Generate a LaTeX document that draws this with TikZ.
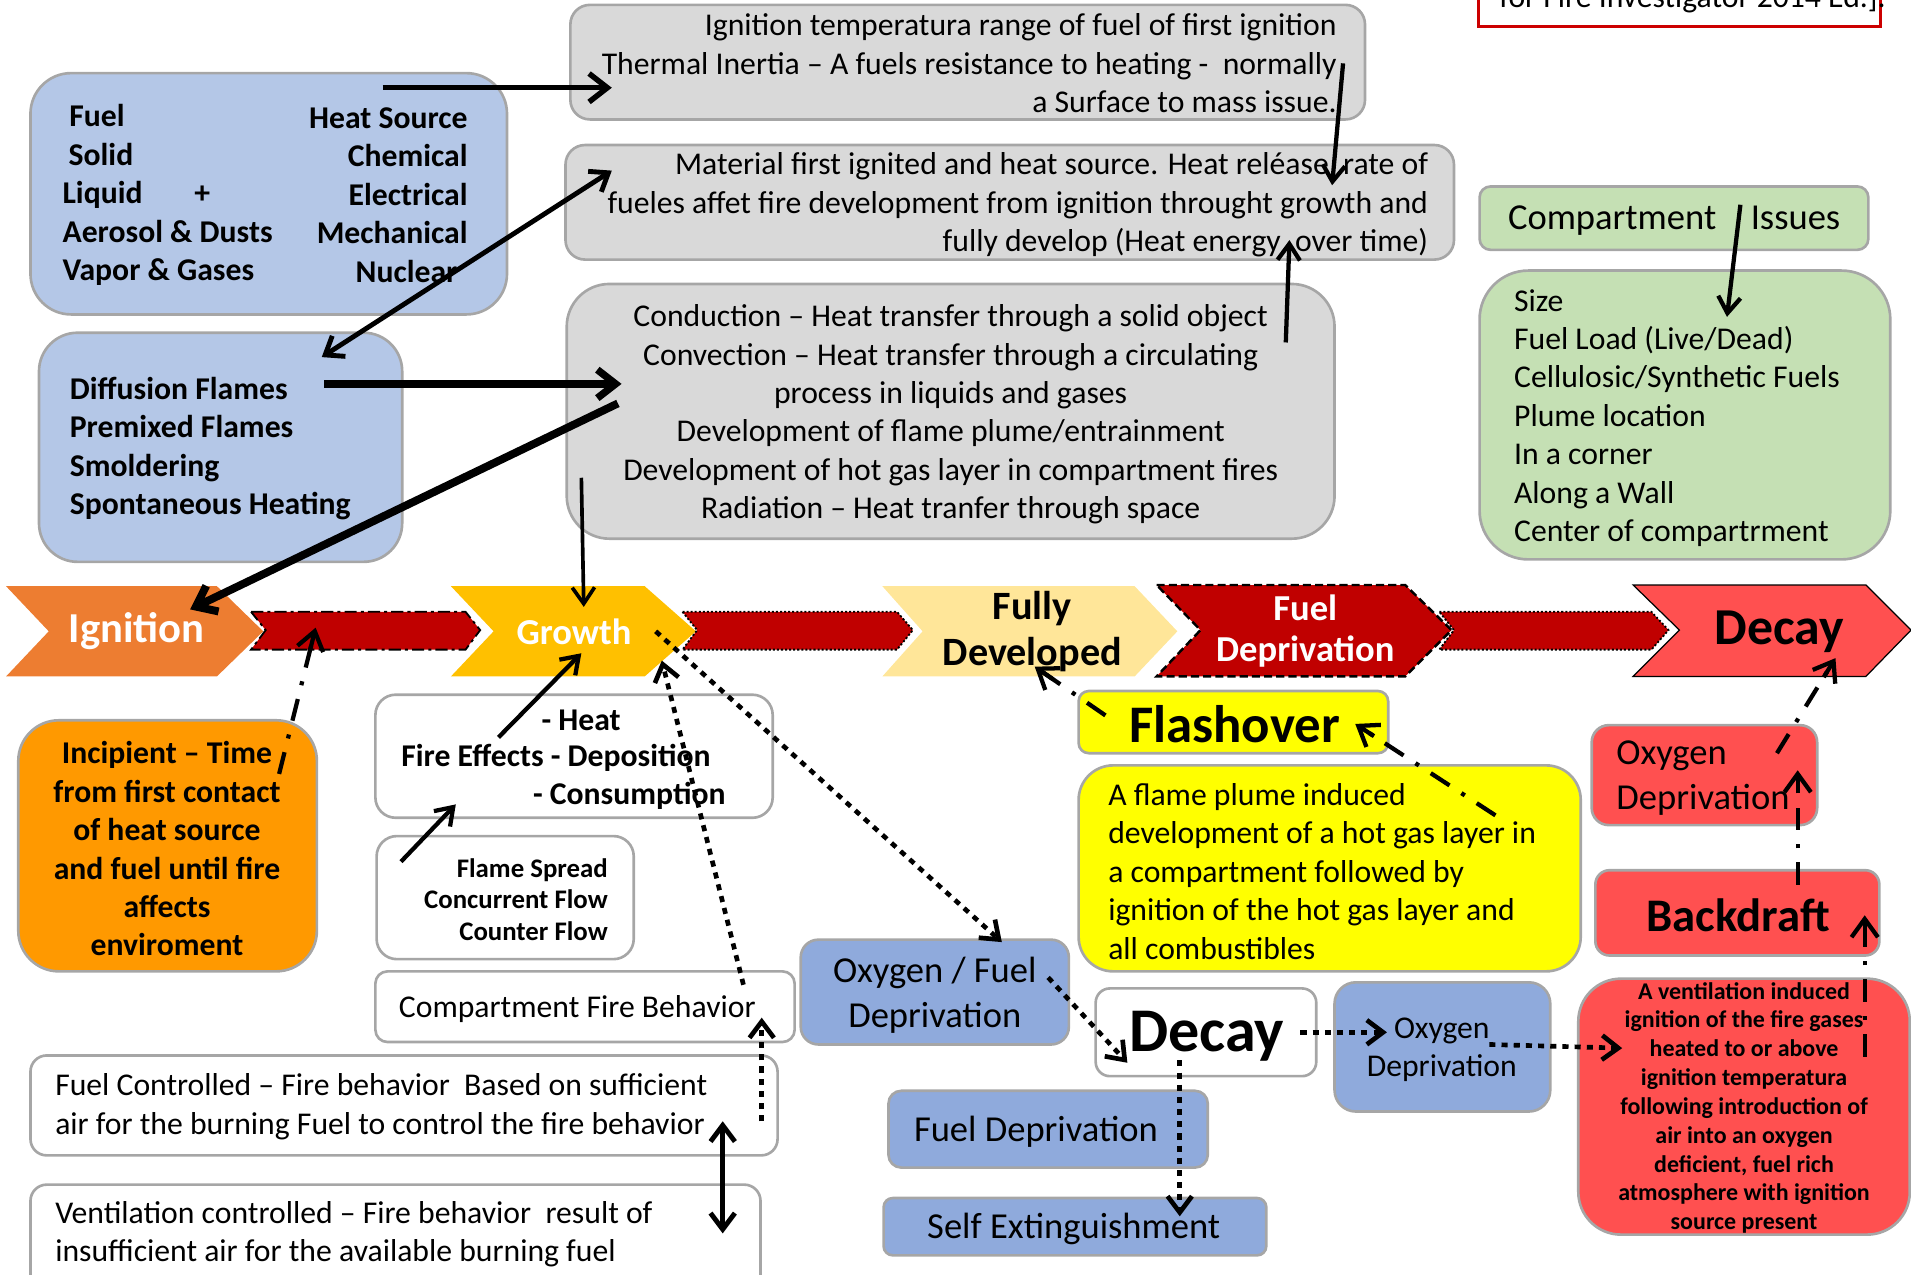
\documentclass[tikz,border=0pt]{standalone}
\usepackage{fontspec}
\setmainfont{Carlito}
\usetikzlibrary{arrows.meta,fit,calc}
\definecolor{bgray}{HTML}{A6A6A6}
\definecolor{cgray}{HTML}{D9D9D9}
\definecolor{cblueL}{HTML}{B4C7E7}
\definecolor{cblueM}{HTML}{8FAADC}
\definecolor{cgreen}{HTML}{C5E0B4}
\definecolor{cign}{HTML}{ED7D31}
\definecolor{cgrow}{HTML}{FFC000}
\definecolor{cfull}{HTML}{FFE699}
\definecolor{cdk}{HTML}{C00000}
\definecolor{cred}{HTML}{FF5050}
\definecolor{corange}{HTML}{FF9900}
\definecolor{cyel}{HTML}{FFFF00}
\definecolor{cline}{HTML}{CC0000}
\newcommand\fz[2]{\fontsize{#1pt}{#2pt}\selectfont}
\newcommand\dashcon[2]{%
  \draw[dashshaft] (#1) -- (#2);
  \draw[dashtip] ($(#2)!11pt!(#1)$) -- (#2);}
\begin{document}
\begin{tikzpicture}[x=0.6pt,y=-0.6pt,
  bx/.style={draw=bgray, line width=1.3pt, inner sep=0pt, outer sep=0pt},
  tx/.style={inner sep=0pt, font=\fz{15.6}{18.9}},
  txb/.style={inner sep=0pt, font=\fz{15.6}{18.9}\bfseries},
  arrS/.style={-{Straight Barb[length=8pt,width=11pt]}},
  arrB/.style={-{Straight Barb[length=9pt,width=14pt]}},
  arrD/.style={{Straight Barb[length=8pt,width=12pt]}-{Straight Barb[length=8pt,width=12pt]}},
  dotarr/.style={line width=2.3pt, dash pattern=on 3pt off 3pt, -{Straight Barb[length=8pt,width=12pt]}},
  dashshaft/.style={line width=2.1pt, dash pattern=on 11pt off 7pt on 2pt off 7pt, shorten >=4pt},
  dashtip/.style={line width=2.1pt, -{Straight Barb[length=9pt,width=13pt]}},
  band/.style={fill=cdk, draw=black, line width=0.9pt}
]
\useasboundingbox (0,0) rectangle (1568,1046);

% ---------- top boxes ----------
\node[bx, fill=cgray, rounded corners=9.6pt, fit={(468,4)(1120,98)}] (g1) {};
\node[tx, align=right, anchor=east] (g1t) at (1097,52)
  {Ignition temperatura range of fuel of first ignition\\
   Thermal Inertia – A fuels resistance to heating -~ normally\\
   a Surface to mass issue.};
\node[bx, fill=cgray, rounded corners=9.6pt, fit={(464,119)(1193,213)}] (g2) {};
\node[tx, align=right, anchor=east] (g2t) at (1172,168)
  {Material first ignited and heat source. Heat reléase~ rate of\\
   fueles affet fire development from ignition throught growth and\\
   fully develop (Heat energy~ over time)};
\node[bx, fill=cgray, rounded corners=21pt, fit={(465,233)(1095,442)}] (g3) {};
\node[tx, align=center] (g3t) at (780,340)
  {Conduction – Heat transfer through a solid object\\
   Convection – Heat transfer through a circulating\\
   process in liquids and gases\\
   Development of flame plume/entrainment\\
   Development of hot gas layer in compartment fires\\
   Radiation – Heat tranfer through space};

\node[bx, fill=cblueL, rounded corners=20pt, fit={(25,60)(416,258)}] (b1) {};
\node[txb, align=left, anchor=west] (b1l) at (51,160)
  {\hspace*{3.3pt}Fuel\\ \hspace*{3pt}Solid\\ Liquid\\ Aerosol \& Dusts\\ Vapor \& Gases};
\node[txb] (b1p) at (166,160) {+};
\node[txb, align=right, anchor=east] (b1r) at (384,160)
  {Heat Source\\ Chemical\\ Electrical\hspace*{1.8pt}\\ Mechanical\hspace*{2.4pt}\\ Nuclear\hspace*{5pt}};

\node[bx, fill=cblueL, rounded corners=19pt, fit={(32,273)(330,461)}] (b2) {};
\node[txb, align=left, anchor=west] (b2t) at (57,368)
  {Diffusion Flames\\ Premixed Flames\\ Smoldering\\ Spontaneous Heating};

\node[bx, fill=cgreen, rounded corners=5.4pt, fit={(1214,153)(1533,205)}] (gi) {};
\node[inner sep=0pt, font=\fz{18}{22}, anchor=west] (git) at (1237,181) {Compartment\hspace{17pt}Issues};
\node[bx, fill=cgreen, rounded corners=24pt, fit={(1214,222)(1551,459)}] (gl) {};
\node[tx, align=left, anchor=west] (glt) at (1242,343)
  {Size\\ Fuel Load (Live/Dead)\\ Cellulosic/Synthetic Fuels\\ Plume location\\ In a corner\\ Along a Wall\\ Center of compartrment};

\node[draw=cline, line width=1.5pt, inner sep=0pt, fit={(1213,-40)(1543,22)}] (rt) {};
\node[tx, anchor=base west] (rtt) at (1230,6) {for Fire Investigator 2014 Ed.].};

% ---------- chevron row ----------
\fill[cign] (5,481) -- (178,481) -- (216,518) -- (178,555) -- (5,555) -- (40,518) -- cycle;
\node[inner sep=0pt, font=\fz{21}{24}\bfseries, text=white] (ign) at (112,518) {Ignition};
\filldraw[band, dash pattern=on 6pt off 2pt on 1.5pt off 2pt]
  (206,502) -- (382,502) -- (394,517) -- (382,533) -- (206,533) -- (218,517) -- cycle;
\fill[cgrow] (370,481) -- (529,481) -- (571,518) -- (529,555) -- (370,555) -- (405,518) -- cycle;
\node[inner sep=0pt, font=\fz{18}{21}\bfseries, text=white] (grw) at (471,518) {Growth};
\filldraw[band, dash pattern=on 1pt off 1pt]
  (560,502) -- (736,502) -- (749,517) -- (736,533) -- (560,533) -- (572,517) -- cycle;
\fill[cfull] (724,481) -- (931,481) -- (966,518) -- (931,555) -- (724,555) -- (757,518) -- cycle;
\node[inner sep=0pt, font=\fz{19.8}{22.8}\bfseries, align=center] (ful) at (847,518) {Fully\\ Developed};
\filldraw[fill=cdk, draw=black, line width=1.2pt, dash pattern=on 4pt off 2pt]
  (949,480) -- (1153,480) -- (1191,517) -- (1153,555) -- (949,555) -- (985,517) -- cycle;
\node[inner sep=0pt, font=\fz{18}{20.4}\bfseries, align=center, text=white] (fdc) at (1071,518) {Fuel\\ Deprivation};
\filldraw[band, dash pattern=on 1pt off 1pt]
  (1181,502) -- (1355,502) -- (1369,517) -- (1355,533) -- (1181,533) -- (1193,517) -- cycle;
\filldraw[fill=cred, draw=black, line width=0.6pt]
  (1340,480) -- (1531,480) -- (1568,517) -- (1531,555) -- (1340,555) -- (1378,517) -- cycle;
\node[inner sep=0pt, font=\fz{25.5}{29}\bfseries] (dcc) at (1460,518) {Decay};

% ---------- lower left ----------
\node[bx, fill=corange, rounded corners=20pt, fit={(15,591)(260,797)}] (inc) {};
\node[txb, align=center] (inct) at (137,696.5)
  {Incipient – Time\\ from first contact\\ of heat source\\ and fuel until fire\\ affects\\ enviroment};

\node[bx, fill=white, rounded corners=10pt, fit={(308,570)(634,671)}] (fe) {};
\node[txb, anchor=west] (fe1) at (444,591) {- Heat};
\node[txb, anchor=west] (fe2) at (329,622) {Fire Effects - Deposition};
\node[txb, anchor=west] (fe3) at (437,653) {- Consumption};

\node[bx, fill=white, rounded corners=10pt, fit={(309,686)(520,787)}] (fs) {};
\node[inner sep=0pt, font=\fz{13.2}{15.6}\bfseries, align=right, anchor=east] (fst) at (499,738)
  {Flame Spread\\ Concurrent Flow\\ Counter Flow};

\node[bx, fill=white, rounded corners=6pt, fit={(308,797)(652,855)}] (cf) {};
\node[tx, anchor=west] (cft) at (327,828) {Compartment Fire Behavior};

\node[bx, fill=white, rounded corners=8pt, fit={(25,866)(638,948)}] (fc) {};
\node[tx, align=left, anchor=west] (fct) at (45,908)
  {Fuel Controlled – Fire behavior~ Based on sufficient\\
   air for the burning Fuel to control the fire behavior};
\node[bx, fill=white, rounded corners=8pt, fit={(25,972)(624,1080)}] (vc) {};
\node[tx, align=left, anchor=west] (vct) at (45,1012.5)
  {Ventilation controlled – Fire behavior~ result of\\
   insufficient air for the available burning fuel};

% ---------- lower middle ----------
\node[bx, fill=cblueM, rounded corners=8.7pt, fit={(657,771)(877,857)}] (of) {};
\node[inner sep=0pt, font=\fz{18}{22.2}, align=center] (oft) at (767,816.5) {Oxygen / Fuel\\ Deprivation};
\node[bx, fill=cblueM, rounded corners=6.3pt, fit={(729,895)(991,958)}] (fd) {};
\node[inner sep=0pt, font=\fz{18}{22.2}] (fdt) at (850,929) {Fuel Deprivation};
\node[bx, fill=cblueM, rounded corners=4.5pt, fit={(725,983)(1039,1030)}] (se) {};
\node[inner sep=0pt, font=\fz{18}{22.2}] (set) at (881,1008) {Self Extinguishment};

\node[bx, fill=white, rounded corners=7pt, fit={(899,811)(1080,883)}] (dy) {};
\node[inner sep=0pt, font=\fz{30.6}{34}\bfseries] (dyt) at (990,850) {Decay};
\node[bx, fill=cblueM, rounded corners=10.5pt, fit={(1095,806)(1272,912)}] (od) {};
\node[tx, align=center] (odt) at (1183,861.5) {Oxygen\\ Deprivation};

\node[bx, fill=cyel, rounded corners=5pt, fit={(885,567)(1139,618)}] (fl) {};
\node[inner sep=0pt, font=\fz{26}{30}\bfseries] (flt) at (1013,594) {Flashover};
\node[bx, fill=cyel, rounded corners=17pt, fit={(885,628)(1297,797)}] (fld) {};
\node[tx, align=left, anchor=west] (fldt) at (909,715)
  {A flame plume induced\\ development of a hot gas layer in\\ a compartment followed by\\ ignition of the hot gas layer and\\ all combustibles};

% ---------- lower right ----------
\node[bx, fill=cred, rounded corners=8.4pt, fit={(1306,595)(1491,677)}] (ro) {};
\node[inner sep=0pt, font=\fz{18}{22.2}, align=left, anchor=west] (rot) at (1326,638.5) {Oxygen\\ Deprivation};
\node[bx, fill=cred, rounded corners=7pt, fit={(1309,714)(1542,784)}] (bd) {};
\node[inner sep=0pt, font=\fz{23}{27}\bfseries] (bdt) at (1426,751) {Backdraft};
\node[bx, fill=cred, rounded corners=21pt, fit={(1295,803)(1567,1013)}] (bdd) {};
\node[inner sep=0pt, font=\fz{11.8}{14.2}\bfseries, align=center] (bddt) at (1431,909)
  {A ventilation induced\\ ignition of the fire gases\\ heated to or above\\ ignition temperatura\\ following introduction of\\ air into an oxygen\\ deficient, fuel rich\\ atmosphere with ignition\\ source present};

% ---------- connector end points ----------
\coordinate (a1s) at (314,72);   \coordinate (a1e) at (502,72);
\coordinate (a2s) at (502,140);  \coordinate (a2e) at (264,293);
\coordinate (a3s) at (266,315);  \coordinate (a3e) at (510,315);
\coordinate (a4s) at (507,331);  \coordinate (a4e) at (156,500);
\coordinate (a5s) at (477,392);  \coordinate (a5e) at (479,498);
\coordinate (a6s) at (1102,52);  \coordinate (a6e) at (1093,152);
\coordinate (a7s) at (1055,281); \coordinate (a7e) at (1058,197);
\coordinate (a8s) at (1428,168); \coordinate (a8e) at (1417,260);
\coordinate (a9s) at (229,635);  \coordinate (a9e) at (259,515);
\coordinate (a10s) at (409,605); \coordinate (a10e) at (477,536);
\coordinate (a11s) at (329,707); \coordinate (a11e) at (374,660);
\coordinate (a12s) at (610,808); \coordinate (a12e) at (543,542);
\coordinate (a13s) at (538,518); \coordinate (a13e) at (822,773);
\coordinate (a14s) at (625,920); \coordinate (a14e) at (625,835);
\coordinate (a15s) at (593,920); \coordinate (a15e) at (593,1012);
\coordinate (a16s) at (860,802); \coordinate (a16e) at (925,872);
\coordinate (a17s) at (1067,847); \coordinate (a17e) at (1138,847);
\coordinate (a18s) at (1222,857); \coordinate (a18e) at (1331,860);
\coordinate (a19s) at (968,870); \coordinate (a19e) at (968,998);
\coordinate (a20s) at (907,587); \coordinate (a20e) at (849,547);
\coordinate (a21s) at (1227,669); \coordinate (a21e) at (1112,594);
\coordinate (a22s) at (1530,867); \coordinate (a22e) at (1530,751);
\coordinate (a23s) at (1475,726); \coordinate (a23e) at (1475,632);
\coordinate (a24s) at (1458,618); \coordinate (a24e) at (1506,540);

% ---------- connectors ----------
\draw[arrB, line width=2.7pt] (a1s) -- (a1e);
\draw[arrD, line width=2.4pt] (a2s) -- (a2e);
\draw[arrB, line width=3.6pt] (a3s) -- (a3e);
\draw[arrB, line width=3.9pt] (a4s) -- (a4e);
\draw[arrS, line width=1.8pt] (a5s) -- (a5e);
\draw[arrS, line width=2.1pt] (a6s) -- (a6e);
\draw[arrS, line width=2.1pt] (a7s) -- (a7e);
\draw[arrS, line width=2.1pt] (a8s) -- (a8e);
\dashcon{a9s}{a9e}
\draw[arrS, line width=2.1pt] (a10s) -- (a10e);
\draw[arrS, line width=2.1pt] (a11s) -- (a11e);
\draw[dotarr] (a12s) -- (a12e);
\draw[dotarr] (a13s) -- (a13e);
\draw[dotarr] (a14s) -- (a14e);
\draw[arrD, line width=2.4pt] (a15s) -- (a15e);
\draw[dotarr] (a16s) -- (a16e);
\draw[dotarr] (a17s) -- (a17e);
\draw[dotarr] (a18s) -- (a18e);
\draw[dotarr] (a19s) -- (a19e);
\dashcon{a20s}{a20e}
\dashcon{a21s}{a21e}
\dashcon{a22s}{a22e}
\dashcon{a23s}{a23e}
\dashcon{a24s}{a24e}
\end{tikzpicture}
\end{document}
